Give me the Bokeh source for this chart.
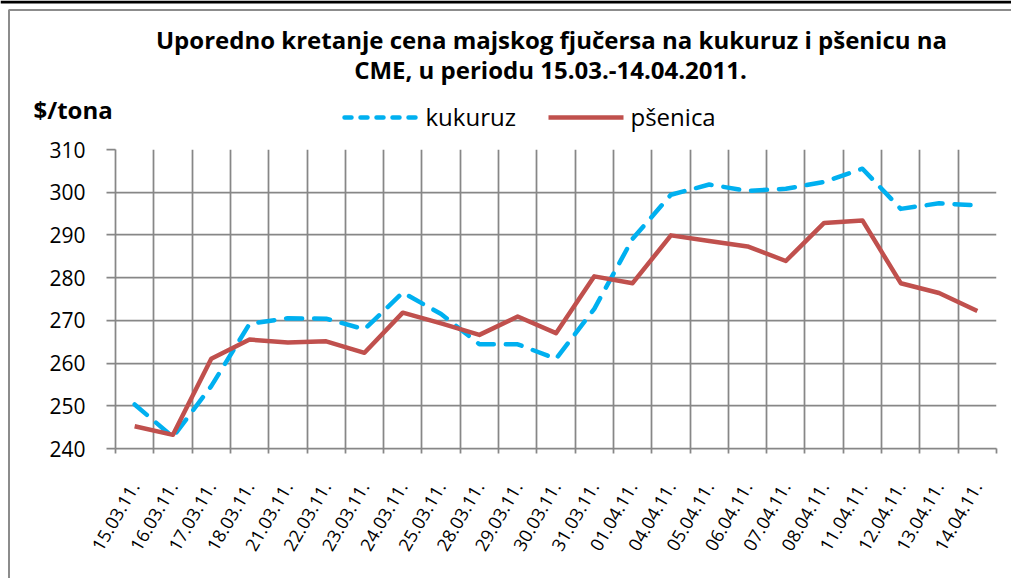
import math
from bokeh.plotting import figure
from bokeh.layouts import column, row
from bokeh.models import Range1d, FixedTicker, Div
from bokeh.core.properties import value
from bokeh.embed import file_html
from bokeh.resources import INLINE

dates = ["15.03.11.", "16.03.11.", "17.03.11.", "18.03.11.", "21.03.11.", "22.03.11.",
         "23.03.11.", "24.03.11.", "25.03.11.", "28.03.11.", "29.03.11.", "30.03.11.",
         "31.03.11.", "01.04.11.", "04.04.11.", "05.04.11.", "06.04.11.", "07.04.11.",
         "08.04.11.", "11.04.11.", "12.04.11.", "13.04.11.", "14.04.11."]
kukuruz = [250.3, 242.7, 254.6, 269.2, 270.5, 270.4, 267.9, 276.5, 271.5, 264.4, 264.4, 261.0,
           272.7, 289.1, 299.4, 301.8, 300.3, 300.8, 302.4, 305.5, 296.1, 297.4, 296.9]
psenica = [245.2, 243.2, 261.0, 265.5, 264.8, 265.1, 262.4, 271.8, 269.3, 266.6, 270.9, 267.0,
           280.3, 278.7, 289.9, 288.6, 287.3, 283.9, 292.8, 293.4, 278.7, 276.4, 272.2]
y_ticks = [240, 250, 260, 270, 280, 290, 300, 310]
series_names = ["kukuruz", "pšenica"]
title_lines = ["Uporedno kretanje cena majskog fjučersa na kukuruz i pšenicu na",
               "CME, u periodu 15.03.-14.04.2011."]
y_unit = "$/tona"

W, H = 1011, 578
HEAD_H = 136          # header strip (title, unit, legend)
STRIP_W = 10          # left strip carrying the chart-area border
FONT = "Open Sans"
GRID = "#878787"
BORDER = "#8c8c8c"
BLUE, RED = "#00B0F0", "#C0504D"

# ---------------- header (title, unit label, legend) ----------------
hd = figure(width=W, height=HEAD_H, output_backend="svg", toolbar_location=None,
            x_range=Range1d(0, W), y_range=Range1d(HEAD_H, 0),
            x_axis_type=None, y_axis_type=None,
            min_border=0, min_border_left=0, min_border_right=0,
            min_border_top=0, min_border_bottom=0)
hd.outline_line_color = None
hd.grid.visible = False
hd.background_fill_color = "white"
hd.border_fill_color = "white"

hd.quad(left=[0], right=[W], top=[0], bottom=[3], fill_color="black", line_color=None)
hd.line([8.5, 8.5, W], [HEAD_H, 9.5, 9.5], line_color=BORDER, line_width=2)

hd.text(x=[551], y=[39], text=[title_lines[0]], text_font=value(FONT),
        text_font_style="bold", text_font_size="24px", text_align="center",
        text_baseline="middle", text_color="black")
hd.text(x=[550], y=[69], text=[title_lines[1]], text_font=value(FONT),
        text_font_style="bold", text_font_size="24px", text_align="center",
        text_baseline="middle", text_color="black")
hd.text(x=[33], y=[109], text=[y_unit], text_font=value(FONT),
        text_font_style="bold", text_font_size="24px", text_align="left",
        text_baseline="middle", text_color="black")

hd.line([344, 417], [117, 117], line_color=BLUE, line_width=4.5, line_dash="7 9",
        line_cap="round")
hd.text(x=[425], y=[116], text=[series_names[0]], text_font=value(FONT),
        text_font_size="24px", text_align="left", text_baseline="middle", text_color="black")
hd.line([548, 623], [117, 117], line_color=RED, line_width=4.5)
hd.text(x=[630], y=[116], text=[series_names[1]], text_font=value(FONT),
        text_font_size="24px", text_align="left", text_baseline="middle", text_color="black")

# ---------------- left strip (chart-area border) ----------------
CH_H = H - HEAD_H
strip = Div(text=('<div style="position:absolute;left:7.5px;top:0;width:2px;'
                  f'height:{CH_H}px;background:{BORDER}"></div>'),
            width=STRIP_W, height=CH_H, margin=0)

# ---------------- chart ----------------
n = len(dates)
xs = [i + 0.5 for i in range(n)]
CW = W - STRIP_W
FL = 115 - STRIP_W
FT = 149 - HEAD_H
FB = 130
FR = 15

p = figure(width=CW, height=CH_H, output_backend="svg", toolbar_location=None,
           x_range=Range1d(0, n), y_range=Range1d(y_ticks[0], y_ticks[-1]),
           min_border_left=FL, min_border_right=FR, min_border_top=FT, min_border_bottom=FB)
p.outline_line_color = None
p.background_fill_color = "white"
p.border_fill_color = "white"

p.xaxis.ticker = FixedTicker(ticks=xs, minor_ticks=list(range(n + 1)))
p.xaxis.major_label_overrides = {x: d for x, d in zip(xs, dates)}
p.xaxis.major_label_orientation = math.radians(60)
p.xaxis.major_label_text_font = FONT
p.xaxis.major_label_text_font_size = "18px"
p.xaxis.major_label_text_color = "black"
p.xaxis.major_label_standoff = 30
p.xaxis.major_tick_line_color = None
p.xaxis.major_tick_out = 0
p.xaxis.major_tick_in = 0
p.xaxis.minor_tick_out = 5
p.xaxis.minor_tick_in = 0
p.xaxis.minor_tick_line_color = GRID
p.xaxis.minor_tick_line_width = 1.75
p.xaxis.axis_line_color = GRID
p.xaxis.axis_line_width = 1.75

p.yaxis.ticker = FixedTicker(ticks=y_ticks)
p.yaxis.major_label_text_font = FONT
p.yaxis.major_label_text_font_size = "21px"
p.yaxis.major_label_text_color = "black"
p.yaxis.major_label_standoff = 21
p.yaxis.major_tick_out = 9
p.yaxis.major_tick_in = 0
p.yaxis.minor_tick_line_color = None
p.yaxis.major_tick_line_color = GRID
p.yaxis.major_tick_line_width = 1.75
p.yaxis.axis_line_color = GRID
p.yaxis.axis_line_width = 1.75

p.xgrid.ticker = FixedTicker(ticks=list(range(n + 1)))
p.ygrid.ticker = FixedTicker(ticks=y_ticks)
for g in (p.xgrid, p.ygrid):
    g.grid_line_color = GRID
    g.grid_line_width = 1.75

p.line(xs, kukuruz, line_color=BLUE, line_width=4.5, line_dash="16 12",
       line_cap="round", line_join="round")
p.line(xs, psenica, line_color=RED, line_width=4.5, line_join="round")

layout = column(hd, row(strip, p, spacing=0), spacing=0)
open("out.html", "w").write(file_html(layout, INLINE))
